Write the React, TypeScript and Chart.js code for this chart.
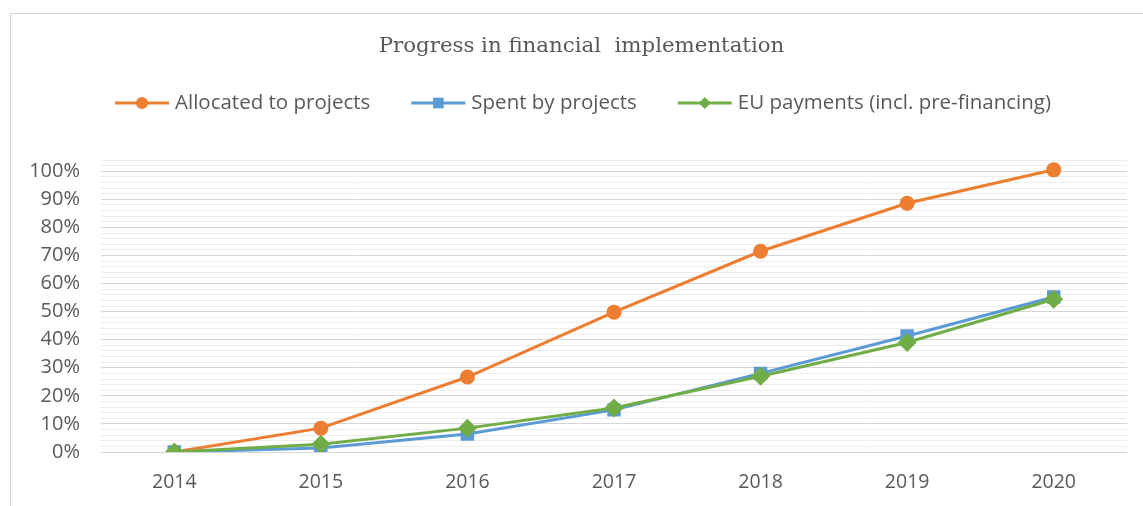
import React, { useEffect, useRef } from "react";
import { Chart, registerables } from "chart.js";

Chart.register(...registerables);

const years = ["2014", "2015", "2016", "2017", "2018", "2019", "2020"];
const allocated = [0, 8.5, 26.7, 49.8, 71.5, 88.6, 100.5];
const spent = [0, 1.4, 6.4, 15, 28, 41.3, 55.2];
const euPayments = [0, 2.8, 8.5, 15.7, 27, 39, 54.4];
const seriesNames = [
  "Allocated to projects",
  "Spent by projects",
  "EU payments (incl. pre-financing)",
];
const seriesColors = ["#ED7D31", "#5B9BD5", "#70AD47"];
const markerStyles = ["circle", "rect", "rectRot"];
const titleText = "Progress in financial  implementation";
const yMax = 104;
const yStep = 2;
const yLabelStep = 10;

const TEXT = "#595959";
const SANS = "'Open Sans', 'Noto Sans', sans-serif";
const SERIF = "'DejaVu Serif', serif";

function drawMarker(ctx: CanvasRenderingContext2D, style: string, x: number, y: number, r: number) {
  ctx.beginPath();
  if (style === "circle") {
    ctx.arc(x, y, r, 0, Math.PI * 2);
  } else if (style === "rect") {
    const s = r * Math.SQRT1_2;
    ctx.rect(x - s, y - s, 2 * s, 2 * s);
  } else {
    ctx.moveTo(x - r, y);
    ctx.lineTo(x, y - r);
    ctx.lineTo(x + r, y);
    ctx.lineTo(x, y + r);
    ctx.closePath();
  }
  ctx.fill();
}

const headerPlugin = {
  id: "header",
  afterDraw(chart: any) {
    const ctx: CanvasRenderingContext2D = chart.ctx;
    ctx.save();
    // title
    ctx.font = `21.3px ${SERIF}`;
    ctx.fillStyle = TEXT;
    ctx.textAlign = "center";
    ctx.textBaseline = "middle";
    ctx.fillText(titleText, chart.width / 2 - 4.5, 46);

    // legend
    const y = 103;
    const iconW = 54;
    const gap = 6;
    const itemGap = 41;
    ctx.font = `20.5px ${SANS}`;
    const items = chart.data.datasets.map((ds: any, i: number) => ({
      label: seriesNames[i],
      color: seriesColors[i],
      style: markerStyles[i],
      tw: ctx.measureText(seriesNames[i]).width,
    }));
    const total =
      items.reduce((a: number, it: any) => a + iconW + gap + it.tw, 0) + itemGap * (items.length - 1);
    let x = chart.width / 2 - total / 2 - 3;
    const legendRadius = [6, 7.5, 6];
    items.forEach((it: any, i: number) => {
      ctx.strokeStyle = it.color;
      ctx.fillStyle = it.color;
      ctx.lineWidth = 3;
      ctx.beginPath();
      ctx.moveTo(x, y);
      ctx.lineTo(x + iconW, y);
      ctx.stroke();
      drawMarker(ctx, it.style, x + iconW / 2, y, legendRadius[i]);
      ctx.fillStyle = TEXT;
      ctx.textBaseline = "middle";
      ctx.textAlign = "left";
      ctx.fillText(it.label, x + iconW + gap, y);
      x += iconW + gap + it.tw + itemGap;
    });
    ctx.restore();
  },
};

export default function App() {
  const ref = useRef<HTMLCanvasElement>(null);

  useEffect(() => {
    const canvas = ref.current;
    if (!canvas) return;
    const seriesData = [allocated, spent, euPayments];
    const radii = [7.5, 9.5, 9.5];
    const orders = [2, 1, 0];
    const chart = new Chart(canvas, {
      type: "line",
      data: {
        labels: years,
        datasets: seriesData.map((d, i) => ({
          label: seriesNames[i],
          data: d,
          borderColor: seriesColors[i],
          backgroundColor: seriesColors[i],
          pointBackgroundColor: seriesColors[i],
          pointBorderColor: seriesColors[i],
          pointBorderWidth: 0,
          borderWidth: 3,
          pointStyle: markerStyles[i] as any,
          pointRadius: radii[i],
          pointHoverRadius: radii[i],
          tension: 0,
          order: orders[i],
        })),
      },
      options: {
        animation: false,
        responsive: false,
        maintainAspectRatio: false,
        layout: { padding: { left: 0, right: 35, top: 160, bottom: 0 } },
        plugins: {
          legend: { display: false },
          tooltip: { enabled: false },
          title: { display: false },
        },
        scales: {
          x: {
            offset: true,
            grid: { display: false, drawTicks: false },
            border: { display: false },
            ticks: { color: TEXT, font: { family: SANS, size: 19.5 }, padding: 19 },
            afterFit: (s: any) => {
              s.height = 54;
            },
          },
          y: {
            min: 0,
            max: yMax,
            border: { display: false },
            grid: {
              drawTicks: false,
              lineWidth: 1,
              color: (c: any) =>
                c.tick && c.tick.value % yLabelStep === 0 ? "#D6D6D6" : "#EDEDED",
            },
            ticks: {
              stepSize: yStep,
              autoSkip: false,
              color: TEXT,
              font: { family: SANS, size: 20 },
              padding: 21,
              callback: (v: any) => (Number(v) % yLabelStep === 0 ? `${v}%` : ""),
            },
            afterFit: (s: any) => {
              s.width = 91;
            },
          },
        },
      },
      plugins: [headerPlugin],
    });
    return () => chart.destroy();
  }, []);

  return (
    <div
      style={{
        position: "fixed",
        left: 0,
        top: 0,
        width: 1143,
        height: 506,
        overflow: "hidden",
        background: "#fff",
      }}
    >
      <div
        style={{
          position: "absolute",
          left: 10,
          top: 13,
          width: 1180,
          height: 540,
          border: "1px solid #D4D4D4",
          boxSizing: "border-box",
        }}
      />
      <canvas
        ref={ref}
        width={1152}
        height={506}
        style={{ position: "absolute", left: 10, top: 0, width: 1152, height: 506 }}
      />
    </div>
  );
}
